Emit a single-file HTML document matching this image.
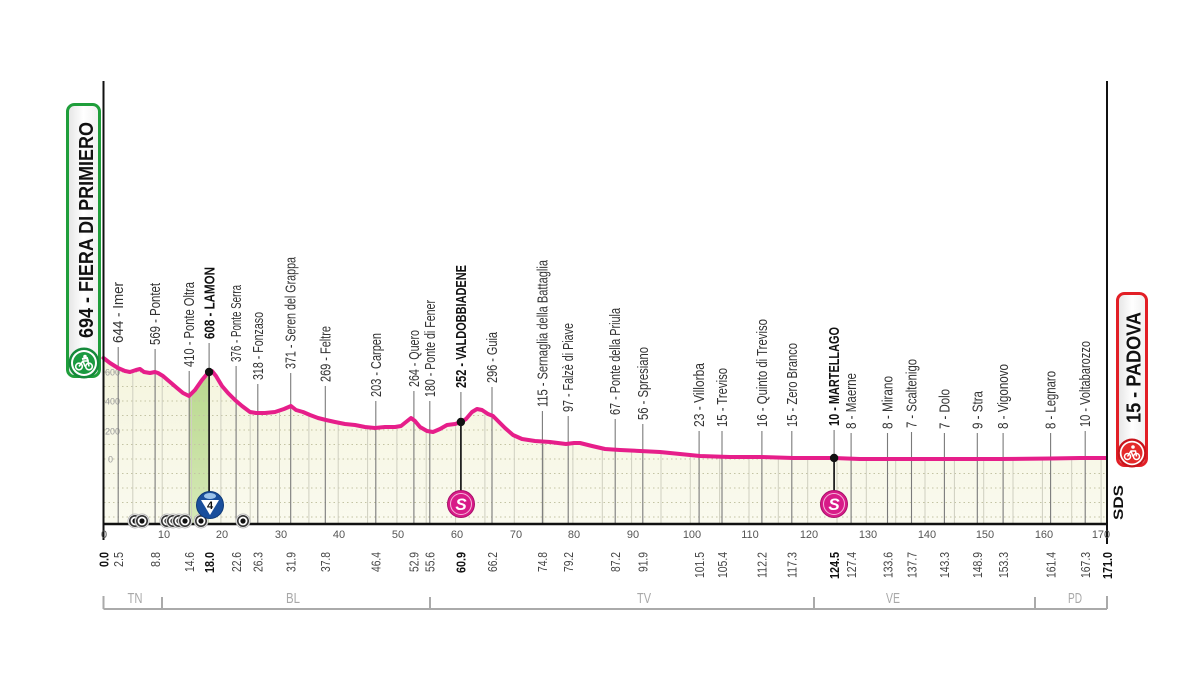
<!DOCTYPE html>
<html><head><meta charset="utf-8"><style>
html,body{margin:0;padding:0;background:#fff;}
svg{display:block;}
text{font-family:"Liberation Sans",sans-serif;}
</style></head><body>
<svg width="1200" height="675" viewBox="0 0 1200 675" xmlns="http://www.w3.org/2000/svg">
<defs>
<linearGradient id="fillg" x1="0" y1="0" x2="0" y2="1"><stop offset="0" stop-color="#f4f4dc"/><stop offset="1" stop-color="#fafaef"/></linearGradient>
<linearGradient id="greeng" x1="0" y1="0" x2="0" y2="1"><stop offset="0" stop-color="#b9d88e"/><stop offset="1" stop-color="#d6e9b8"/></linearGradient>
<linearGradient id="badgeg" x1="0" y1="0" x2="1" y2="0"><stop offset="0" stop-color="#e4e4e4"/><stop offset="0.5" stop-color="#ffffff"/><stop offset="1" stop-color="#f0f0f0"/></linearGradient>
<clipPath id="clipfill"><path d="M103.5,358 L110,363 L118,368 L125,371 L130,372 L136,370 L140,369 L144,372 L150,373 L155,372 L158,373 L163,376 L170,382 L177,388 L183,393 L189,396 L195,390 L202,380 L207,374 L209.1,372 L212,371 L216,376 L222,386 L228,393 L235,400 L242,406 L250,412 L256,413 L265,413 L275,412 L284,409 L291,406 L296,410 L303,412 L310,415 L318,418 L326,420 L335,422 L345,424 L355,425 L365,427 L375,428 L385,427 L395,427 L401,426 L406,422 L411,418 L415,421 L420,427 L427,431 L433,432 L440,429 L447,425 L455,424 L461,422 L466,419 L472,412 L477,409 L482,410 L488,414 L493,416 L498,421 L505,428 L513,435 L522,439 L535,441 L550,442 L566,444 L574,443 L580,443 L592,446 L605,449 L620,450 L640,451 L660,452 L680,454 L700,456 L730,457 L760,457 L793,458 L834,458 L860,459 L900,459 L950,459 L1000,459 L1050,458.5 L1080,458 L1107,458 L1107,524 L103.5,524 Z"/></clipPath>
</defs>

<!-- fill -->
<rect x="100" y="340" width="1010" height="190" fill="url(#fillg)" clip-path="url(#clipfill)"/>
<!-- green climb -->
<polygon points="189.2,396 195,390 202,380 207,374 209.1,372 209.1,524 189.2,524" fill="url(#greeng)"/>

<!-- dotted grid + 5km lines clipped -->
<g clip-path="url(#clipfill)">
<g stroke="#c4c4a4" stroke-width="1" stroke-dasharray="1.5,3">
<line x1="104" y1="372" x2="1106" y2="372"/><line x1="104" y1="386.5" x2="1106" y2="386.5"/><line x1="104" y1="401" x2="1106" y2="401"/><line x1="104" y1="415.5" x2="1106" y2="415.5"/><line x1="104" y1="430" x2="1106" y2="430"/><line x1="104" y1="444.5" x2="1106" y2="444.5"/><line x1="104" y1="459" x2="1106" y2="459"/><line x1="104" y1="473.5" x2="1106" y2="473.5"/><line x1="104" y1="488" x2="1106" y2="488"/><line x1="104" y1="502.5" x2="1106" y2="502.5"/><line x1="104" y1="517" x2="1106" y2="517"/>
</g>
<g stroke="#cfcfc0" stroke-width="1">
<line x1="132.8" y1="340" x2="132.8" y2="524"/><line x1="162.2" y1="340" x2="162.2" y2="524"/><line x1="191.5" y1="340" x2="191.5" y2="524"/><line x1="220.9" y1="340" x2="220.9" y2="524"/><line x1="250.2" y1="340" x2="250.2" y2="524"/><line x1="279.5" y1="340" x2="279.5" y2="524"/><line x1="308.9" y1="340" x2="308.9" y2="524"/><line x1="338.2" y1="340" x2="338.2" y2="524"/><line x1="367.6" y1="340" x2="367.6" y2="524"/><line x1="396.9" y1="340" x2="396.9" y2="524"/><line x1="426.2" y1="340" x2="426.2" y2="524"/><line x1="455.6" y1="340" x2="455.6" y2="524"/><line x1="484.9" y1="340" x2="484.9" y2="524"/><line x1="514.3" y1="340" x2="514.3" y2="524"/><line x1="543.6" y1="340" x2="543.6" y2="524"/><line x1="572.9" y1="340" x2="572.9" y2="524"/><line x1="602.3" y1="340" x2="602.3" y2="524"/><line x1="631.6" y1="340" x2="631.6" y2="524"/><line x1="661" y1="340" x2="661" y2="524"/><line x1="690.3" y1="340" x2="690.3" y2="524"/><line x1="719.6" y1="340" x2="719.6" y2="524"/><line x1="749" y1="340" x2="749" y2="524"/><line x1="778.3" y1="340" x2="778.3" y2="524"/><line x1="807.7" y1="340" x2="807.7" y2="524"/><line x1="837" y1="340" x2="837" y2="524"/><line x1="866.3" y1="340" x2="866.3" y2="524"/><line x1="895.7" y1="340" x2="895.7" y2="524"/><line x1="925" y1="340" x2="925" y2="524"/><line x1="954.4" y1="340" x2="954.4" y2="524"/><line x1="983.7" y1="340" x2="983.7" y2="524"/><line x1="1013" y1="340" x2="1013" y2="524"/><line x1="1042.4" y1="340" x2="1042.4" y2="524"/><line x1="1071.7" y1="340" x2="1071.7" y2="524"/><line x1="1101.1" y1="340" x2="1101.1" y2="524"/>
</g>
</g>

<!-- y labels -->
<g font-size="9" fill="#9a9a9a">
<text x="105" y="375.5">600</text><text x="105" y="404.5">400</text><text x="105" y="434.5">200</text><text x="108" y="462.5">0</text>
</g>

<!-- town tick lines -->
<g stroke="#7a7a7a" stroke-width="1.1">
<line x1="118.2" y1="347" x2="118.2" y2="524"/>
<line x1="155.1" y1="349" x2="155.1" y2="524"/>
<line x1="189.2" y1="371" x2="189.2" y2="524"/>
<line x1="209.1" y1="343" x2="209.1" y2="372"/>
<line x1="236.1" y1="366" x2="236.1" y2="524"/>
<line x1="257.8" y1="384" x2="257.8" y2="524"/>
<line x1="290.7" y1="373" x2="290.7" y2="524"/>
<line x1="325.3" y1="386" x2="325.3" y2="524"/>
<line x1="375.8" y1="401" x2="375.8" y2="524"/>
<line x1="413.9" y1="391" x2="413.9" y2="524"/>
<line x1="429.8" y1="401" x2="429.8" y2="524"/>
<line x1="460.9" y1="392" x2="460.9" y2="422"/>
<line x1="492" y1="387" x2="492" y2="524"/>
<line x1="542.4" y1="411" x2="542.4" y2="524"/>
<line x1="568.2" y1="416" x2="568.2" y2="524"/>
<line x1="615.2" y1="419" x2="615.2" y2="524"/>
<line x1="642.8" y1="424" x2="642.8" y2="524"/>
<line x1="699.1" y1="431" x2="699.1" y2="524"/>
<line x1="722" y1="431" x2="722" y2="524"/>
<line x1="761.9" y1="431" x2="761.9" y2="524"/>
<line x1="791.8" y1="431" x2="791.8" y2="524"/>
<line x1="834.1" y1="430" x2="834.1" y2="458"/>
<line x1="851.1" y1="433" x2="851.1" y2="524"/>
<line x1="887.5" y1="433" x2="887.5" y2="524"/>
<line x1="911.5" y1="432" x2="911.5" y2="524"/>
<line x1="944.4" y1="433" x2="944.4" y2="524"/>
<line x1="977.3" y1="433" x2="977.3" y2="524"/>
<line x1="1003.1" y1="433" x2="1003.1" y2="524"/>
<line x1="1050.6" y1="433" x2="1050.6" y2="524"/>
<line x1="1085.2" y1="431" x2="1085.2" y2="524"/>
</g>
<!-- black marker stems -->
<g stroke="#222" stroke-width="1.8">
<line x1="209.1" y1="372" x2="209.1" y2="500"/>
<line x1="460.9" y1="422" x2="460.9" y2="500"/>
<line x1="834.1" y1="458" x2="834.1" y2="500"/>
</g>

<!-- profile line -->
<polyline fill="none" stroke="#e61e8a" stroke-width="4" stroke-linejoin="round" stroke-linecap="round" points="103.5,358 110,363 118,368 125,371 130,372 136,370 140,369 144,372 150,373 155,372 158,373 163,376 170,382 177,388 183,393 189,396 195,390 202,380 207,374 209.1,372 212,371 216,376 222,386 228,393 235,400 242,406 250,412 256,413 265,413 275,412 284,409 291,406 296,410 303,412 310,415 318,418 326,420 335,422 345,424 355,425 365,427 375,428 385,427 395,427 401,426 406,422 411,418 415,421 420,427 427,431 433,432 440,429 447,425 455,424 461,422 466,419 472,412 477,409 482,410 488,414 493,416 498,421 505,428 513,435 522,439 535,441 550,442 566,444 574,443 580,443 592,446 605,449 620,450 640,451 660,452 680,454 700,456 730,457 760,457 793,458 834,458 860,459 900,459 950,459 1000,459 1050,458.5 1080,458 1106,458"/>

<!-- dots -->
<circle cx="209.1" cy="372" r="4.2" fill="#111"/>
<circle cx="460.9" cy="422" r="4.2" fill="#111"/>
<circle cx="834.1" cy="458" r="4.2" fill="#111"/>

<!-- axes -->
<line x1="103.5" y1="81" x2="103.5" y2="540" stroke="#111" stroke-width="2"/>
<line x1="1107" y1="81" x2="1107" y2="544" stroke="#111" stroke-width="2"/>
<line x1="102.5" y1="524" x2="1108" y2="524" stroke="#111" stroke-width="2.6"/>

<!-- roundabout icons -->
<g>
<g transform="translate(135,521)"><circle r="7" fill="#fff" stroke="#bbb" stroke-width="1"/><circle r="5.2" fill="#fff" stroke="#333" stroke-width="1.6"/><circle r="2.6" fill="#111"/></g>
<g transform="translate(142,521)"><circle r="7" fill="#fff" stroke="#bbb" stroke-width="1"/><circle r="5.2" fill="#fff" stroke="#333" stroke-width="1.6"/><circle r="2.6" fill="#111"/></g>
<g transform="translate(167,521)"><circle r="7" fill="#fff" stroke="#bbb" stroke-width="1"/><circle r="5.2" fill="#fff" stroke="#333" stroke-width="1.6"/><circle r="2.6" fill="#111"/></g>
<g transform="translate(173,521)"><circle r="7" fill="#fff" stroke="#bbb" stroke-width="1"/><circle r="5.2" fill="#fff" stroke="#333" stroke-width="1.6"/><circle r="2.6" fill="#111"/></g>
<g transform="translate(179,521)"><circle r="7" fill="#fff" stroke="#bbb" stroke-width="1"/><circle r="5.2" fill="#fff" stroke="#333" stroke-width="1.6"/><circle r="2.6" fill="#111"/></g>
<g transform="translate(185,521)"><circle r="7" fill="#fff" stroke="#bbb" stroke-width="1"/><circle r="5.2" fill="#fff" stroke="#333" stroke-width="1.6"/><circle r="2.6" fill="#111"/></g>
<g transform="translate(201,521)"><circle r="7" fill="#fff" stroke="#bbb" stroke-width="1"/><circle r="5.2" fill="#fff" stroke="#333" stroke-width="1.6"/><circle r="2.6" fill="#111"/></g>
<g transform="translate(243,521)"><circle r="7" fill="#fff" stroke="#bbb" stroke-width="1"/><circle r="5.2" fill="#fff" stroke="#333" stroke-width="1.6"/><circle r="2.6" fill="#111"/></g>
</g>

<!-- KOM badge -->
<g transform="translate(210,505)">
<circle r="13.5" fill="#1a4f9c" stroke="#0e3a78" stroke-width="1"/>
<ellipse cx="0" cy="-9" rx="6" ry="3" fill="#9cc3ea"/>
<polygon points="-9,-5 9,-5 0,10" fill="#fff"/>
<text x="0" y="4" font-size="11" font-weight="bold" fill="#111" text-anchor="middle">4</text>
</g>
<!-- sprint badges -->
<g transform="translate(461,504)">
<circle r="13.5" fill="#d81b88" stroke="#a8106a" stroke-width="1"/>
<circle r="10.5" fill="none" stroke="#f5b6da" stroke-width="1"/>
<text x="0" y="6" font-size="17" font-weight="bold" font-style="italic" fill="#fff" text-anchor="middle">S</text>
</g>
<g transform="translate(834,504)">
<circle r="13.5" fill="#d81b88" stroke="#a8106a" stroke-width="1"/>
<circle r="10.5" fill="none" stroke="#f5b6da" stroke-width="1"/>
<text x="0" y="6" font-size="17" font-weight="bold" font-style="italic" fill="#fff" text-anchor="middle">S</text>
</g>

<!-- top labels -->
<g font-size="14.5" fill="#333">
<text transform="translate(123.2,343) rotate(-90)" textLength="61" lengthAdjust="spacingAndGlyphs">644 - Imer</text>
<text transform="translate(160.1,345) rotate(-90)" textLength="62" lengthAdjust="spacingAndGlyphs">569 - Pontet</text>
<text transform="translate(194.2,367) rotate(-90)" textLength="85" lengthAdjust="spacingAndGlyphs">410 - Ponte Oltra</text>
<text transform="translate(214.3,339) rotate(-90)" textLength="72" lengthAdjust="spacingAndGlyphs" font-weight="bold" fill="#111">608 - LAMON</text>
<text transform="translate(241.1,362) rotate(-90)" textLength="77" lengthAdjust="spacingAndGlyphs">376 - Ponte Serra</text>
<text transform="translate(262.8,380) rotate(-90)" textLength="68" lengthAdjust="spacingAndGlyphs">318 - Fonzaso</text>
<text transform="translate(295.7,369) rotate(-90)" textLength="112" lengthAdjust="spacingAndGlyphs">371 - Seren del Grappa</text>
<text transform="translate(330.3,382) rotate(-90)" textLength="56" lengthAdjust="spacingAndGlyphs">269 - Feltre</text>
<text transform="translate(380.8,397) rotate(-90)" textLength="64" lengthAdjust="spacingAndGlyphs">203 - Carpen</text>
<text transform="translate(418.9,387) rotate(-90)" textLength="57" lengthAdjust="spacingAndGlyphs">264 - Quero</text>
<text transform="translate(434.8,397) rotate(-90)" textLength="97" lengthAdjust="spacingAndGlyphs">180 - Ponte di Fener</text>
<text transform="translate(466.1,388) rotate(-90)" textLength="123" lengthAdjust="spacingAndGlyphs" font-weight="bold" fill="#111">252 - VALDOBBIADENE</text>
<text transform="translate(497,383) rotate(-90)" textLength="51" lengthAdjust="spacingAndGlyphs">296 - Guia</text>
<text transform="translate(547.4,407) rotate(-90)" textLength="147" lengthAdjust="spacingAndGlyphs">115 - Sernaglia della Battaglia</text>
<text transform="translate(573.2,412) rotate(-90)" textLength="89" lengthAdjust="spacingAndGlyphs">97 - Falzè di Piave</text>
<text transform="translate(620.2,415) rotate(-90)" textLength="107" lengthAdjust="spacingAndGlyphs">67 - Ponte della Priula</text>
<text transform="translate(647.8,420) rotate(-90)" textLength="73" lengthAdjust="spacingAndGlyphs">56 - Spresiano</text>
<text transform="translate(704.1,427) rotate(-90)" textLength="64" lengthAdjust="spacingAndGlyphs">23 - Villorba</text>
<text transform="translate(727,427) rotate(-90)" textLength="59" lengthAdjust="spacingAndGlyphs">15 - Treviso</text>
<text transform="translate(766.9,427) rotate(-90)" textLength="108" lengthAdjust="spacingAndGlyphs">16 - Quinto di Treviso</text>
<text transform="translate(796.8,427) rotate(-90)" textLength="84" lengthAdjust="spacingAndGlyphs">15 - Zero Branco</text>
<text transform="translate(839.1,426) rotate(-90)" textLength="99" lengthAdjust="spacingAndGlyphs" font-weight="bold" fill="#111">10 - MARTELLAGO</text>
<text transform="translate(856.1,429) rotate(-90)" textLength="56" lengthAdjust="spacingAndGlyphs">8 - Maerne</text>
<text transform="translate(892.5,429) rotate(-90)" textLength="53" lengthAdjust="spacingAndGlyphs">8 - Mirano</text>
<text transform="translate(916.5,428) rotate(-90)" textLength="69" lengthAdjust="spacingAndGlyphs">7 - Scaltenigo</text>
<text transform="translate(949.4,429) rotate(-90)" textLength="40" lengthAdjust="spacingAndGlyphs">7 - Dolo</text>
<text transform="translate(982.3,429) rotate(-90)" textLength="38" lengthAdjust="spacingAndGlyphs">9 - Stra</text>
<text transform="translate(1008.1,429) rotate(-90)" textLength="65" lengthAdjust="spacingAndGlyphs">8 - Vigonovo</text>
<text transform="translate(1055.6,429) rotate(-90)" textLength="58" lengthAdjust="spacingAndGlyphs">8 - Legnaro</text>
<text transform="translate(1090.2,427) rotate(-90)" textLength="86" lengthAdjust="spacingAndGlyphs">10 - Voltabarozzo</text>
</g>

<!-- km axis numbers -->
<g font-size="11" fill="#555" text-anchor="middle">
<text x="104" y="538">0</text><text x="164" y="538">10</text><text x="222" y="538">20</text><text x="281" y="538">30</text><text x="339" y="538">40</text><text x="398" y="538">50</text><text x="457" y="538">60</text><text x="516" y="538">70</text><text x="574" y="538">80</text><text x="633" y="538">90</text><text x="692" y="538">100</text><text x="750" y="538">110</text><text x="809" y="538">120</text><text x="868" y="538">130</text><text x="927" y="538">140</text><text x="985" y="538">150</text><text x="1044" y="538">160</text><text x="1101" y="538">170</text>
</g>

<!-- distance labels -->
<g font-size="13" fill="#444" text-anchor="end" lengthAdjust="spacingAndGlyphs">
<text transform="translate(108.5,552) rotate(-90)" font-weight="bold" fill="#111" textLength="15" lengthAdjust="spacingAndGlyphs">0.0</text>
<text transform="translate(123,552) rotate(-90)" textLength="15" lengthAdjust="spacingAndGlyphs">2.5</text>
<text transform="translate(159.9,552) rotate(-90)" textLength="15" lengthAdjust="spacingAndGlyphs">8.8</text>
<text transform="translate(194,552) rotate(-90)" textLength="20" lengthAdjust="spacingAndGlyphs">14.6</text>
<text transform="translate(213.9,552) rotate(-90)" font-weight="bold" fill="#111" textLength="21" lengthAdjust="spacingAndGlyphs">18.0</text>
<text transform="translate(240.9,552) rotate(-90)" textLength="20" lengthAdjust="spacingAndGlyphs">22.6</text>
<text transform="translate(262.6,552) rotate(-90)" textLength="20" lengthAdjust="spacingAndGlyphs">26.3</text>
<text transform="translate(295.5,552) rotate(-90)" textLength="20" lengthAdjust="spacingAndGlyphs">31.9</text>
<text transform="translate(330.1,552) rotate(-90)" textLength="20" lengthAdjust="spacingAndGlyphs">37.8</text>
<text transform="translate(380.6,552) rotate(-90)" textLength="20" lengthAdjust="spacingAndGlyphs">46.4</text>
<text transform="translate(418.7,552) rotate(-90)" textLength="20" lengthAdjust="spacingAndGlyphs">52.9</text>
<text transform="translate(434.6,552) rotate(-90)" textLength="20" lengthAdjust="spacingAndGlyphs">55.6</text>
<text transform="translate(465.7,552) rotate(-90)" font-weight="bold" fill="#111" textLength="21" lengthAdjust="spacingAndGlyphs">60.9</text>
<text transform="translate(496.8,552) rotate(-90)" textLength="20" lengthAdjust="spacingAndGlyphs">66.2</text>
<text transform="translate(547.2,552) rotate(-90)" textLength="20" lengthAdjust="spacingAndGlyphs">74.8</text>
<text transform="translate(573,552) rotate(-90)" textLength="20" lengthAdjust="spacingAndGlyphs">79.2</text>
<text transform="translate(620,552) rotate(-90)" textLength="20" lengthAdjust="spacingAndGlyphs">87.2</text>
<text transform="translate(647.6,552) rotate(-90)" textLength="20" lengthAdjust="spacingAndGlyphs">91.9</text>
<text transform="translate(703.9,552) rotate(-90)" textLength="26" lengthAdjust="spacingAndGlyphs">101.5</text>
<text transform="translate(726.8,552) rotate(-90)" textLength="26" lengthAdjust="spacingAndGlyphs">105.4</text>
<text transform="translate(766.7,552) rotate(-90)" textLength="26" lengthAdjust="spacingAndGlyphs">112.2</text>
<text transform="translate(796.6,552) rotate(-90)" textLength="26" lengthAdjust="spacingAndGlyphs">117.3</text>
<text transform="translate(838.9,552) rotate(-90)" font-weight="bold" fill="#111" textLength="27" lengthAdjust="spacingAndGlyphs">124.5</text>
<text transform="translate(855.9,552) rotate(-90)" textLength="26" lengthAdjust="spacingAndGlyphs">127.4</text>
<text transform="translate(892.3,552) rotate(-90)" textLength="26" lengthAdjust="spacingAndGlyphs">133.6</text>
<text transform="translate(916.3,552) rotate(-90)" textLength="26" lengthAdjust="spacingAndGlyphs">137.7</text>
<text transform="translate(949.2,552) rotate(-90)" textLength="26" lengthAdjust="spacingAndGlyphs">143.3</text>
<text transform="translate(982.1,552) rotate(-90)" textLength="26" lengthAdjust="spacingAndGlyphs">148.9</text>
<text transform="translate(1007.9,552) rotate(-90)" textLength="26" lengthAdjust="spacingAndGlyphs">153.3</text>
<text transform="translate(1055.4,552) rotate(-90)" textLength="26" lengthAdjust="spacingAndGlyphs">161.4</text>
<text transform="translate(1090,552) rotate(-90)" textLength="26" lengthAdjust="spacingAndGlyphs">167.3</text>
<text transform="translate(1111.8,552) rotate(-90)" font-weight="bold" fill="#111" textLength="27" lengthAdjust="spacingAndGlyphs">171.0</text>
</g>

<!-- regions -->
<g stroke="#aaa" stroke-width="2" fill="none">
<line x1="103.5" y1="609" x2="1107" y2="609"/>
<line x1="103.5" y1="596" x2="103.5" y2="609"/>
<line x1="162" y1="597" x2="162" y2="609"/>
<line x1="430" y1="597" x2="430" y2="609"/>
<line x1="814" y1="597" x2="814" y2="609"/>
<line x1="1035" y1="597" x2="1035" y2="609"/>
<line x1="1107" y1="596" x2="1107" y2="609"/>
</g>
<g font-size="15" fill="#a8a8a8" text-anchor="middle">
<text x="135" y="603" textLength="15" lengthAdjust="spacingAndGlyphs">TN</text>
<text x="293" y="603" textLength="14" lengthAdjust="spacingAndGlyphs">BL</text>
<text x="644" y="603" textLength="14" lengthAdjust="spacingAndGlyphs">TV</text>
<text x="893" y="603" textLength="14" lengthAdjust="spacingAndGlyphs">VE</text>
<text x="1075" y="603" textLength="14" lengthAdjust="spacingAndGlyphs">PD</text>
</g>

<!-- start badge -->
<rect x="67.5" y="104.5" width="32" height="272" rx="7" fill="url(#badgeg)" stroke="#1f9e3b" stroke-width="3"/>
<text transform="translate(93,338) rotate(-90)" font-size="20" font-weight="bold" fill="#111" textLength="216" lengthAdjust="spacingAndGlyphs">694 - FIERA DI PRIMIERO</text>
<g transform="translate(84,363)">
<circle r="15.5" fill="#14893a"/>
<circle r="13" fill="#fff"/>
<circle r="11" fill="#1a9a40"/>
<g stroke="#fff" stroke-width="1.6" fill="none">
<circle cx="-5" cy="3.5" r="3.3"/><circle cx="5" cy="3.5" r="3.3"/>
<path d="M-5,3.5 L-1,-2 L4,-2 L5,3.5 M-1,-2 L1,3.5"/>
</g>
<circle cx="1" cy="-6.5" r="1.8" fill="#fff"/>
<path d="M-2,-4 L3,-5 L4,-2" stroke="#fff" stroke-width="2" fill="none"/>
</g>

<!-- finish badge -->
<rect x="1117.5" y="293.5" width="29" height="172" rx="7" fill="url(#badgeg)" stroke="#e21f26" stroke-width="3"/>
<text transform="translate(1140.5,423) rotate(-90)" font-size="20" font-weight="bold" fill="#111" textLength="111" lengthAdjust="spacingAndGlyphs">15 - PADOVA</text>
<g transform="translate(1132,453)">
<circle r="14.5" fill="#c8141b"/>
<circle r="12.2" fill="#fff"/>
<circle r="10.5" fill="#e42a2a"/>
<g stroke="#fff" stroke-width="1.5" fill="none">
<circle cx="-4.5" cy="3.5" r="3"/><circle cx="4.5" cy="3.5" r="3"/>
<path d="M-4.5,3.5 L-1,-2 L3.5,-2 L4.5,3.5 M-1,-2 L1,3.5"/>
</g>
<circle cx="1" cy="-6" r="1.8" fill="#fff"/>
</g>

<!-- SDS -->
<text transform="translate(1123,520) rotate(-90)" font-size="14" font-weight="bold" fill="#111" textLength="35" lengthAdjust="spacingAndGlyphs">SDS</text>
</svg>
</body></html>
